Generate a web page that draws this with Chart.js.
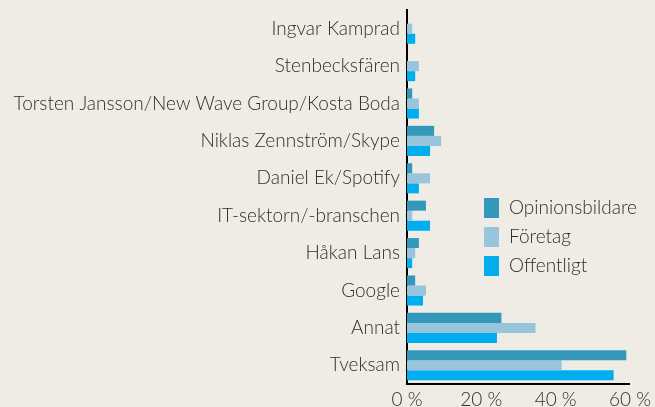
<!DOCTYPE html>
<html>
<head>
<meta charset="utf-8">
<script src="https://cdn.jsdelivr.net/npm/chart.js@4.4.1/dist/chart.umd.min.js"></script>
<style>
  html, body { margin: 0; padding: 0; background: #efebe5; }
  #wrap { position: relative; width: 655px; height: 407px; }
</style>
</head>
<body>
<div id="wrap"><canvas id="c" width="655" height="407"></canvas></div>
<script>
// categories, top to bottom
const categories = [
  'Ingvar Kamprad',
  'Stenbecksfären',
  'Torsten Jansson/New Wave Group/Kosta Boda',
  'Niklas Zennström/Skype',
  'Daniel Ek/Spotify',
  'IT-sektorn/-branschen',
  'Håkan Lans',
  'Google',
  'Annat',
  'Tveksam'
];
const seriesNames = ['Opinionsbildare', 'Företag', 'Offentligt'];
const opinionsbildare = [0, 0, 1.4, 7.3, 1.4, 5.1, 3.2, 2.2, 25.4, 59];
const foretag = [1.4, 3.2, 3.2, 9.2, 6.2, 1.4, 2.2, 5.1, 34.6, 41.6];
const offentligt = [2.2, 2.2, 3.2, 6.2, 3.2, 6.2, 1.4, 4.3, 24.2, 55.6];
const xTicks = [0, 20, 40, 60];

const colors = ['#3498bb', '#98c4dc', '#00adee'];
const textColor = '#2e2e2e';
const fontFamily = 'Lato, "Open Sans", sans-serif';

// legend drawn inside the plot, right side
const sideLegend = {
  id: 'sideLegend',
  afterDraw(chart) {
    const ctx = chart.ctx;
    ctx.save();
    ctx.font = '300 19px ' + fontFamily;
    ctx.textBaseline = 'middle';
    chart.data.datasets.forEach((ds, i) => {
      const y = 208 + i * 29;
      ctx.fillStyle = ds.backgroundColor;
      ctx.fillRect(484, y - 10, 15, 20);
      ctx.fillStyle = textColor;
      ctx.fillText(ds.label, 509, y);
    });
    ctx.restore();
  }
};

new Chart(document.getElementById('c'), {
  type: 'bar',
  data: {
    labels: categories,
    datasets: [opinionsbildare, foretag, offentligt].map((d, i) => ({
      label: seriesNames[i],
      data: d,
      backgroundColor: colors[i],
      borderWidth: 0,
      barPercentage: 1,
      categoryPercentage: 0.805
    }))
  },
  options: {
    indexAxis: 'y',
    responsive: false,
    animation: false,
    layout: { padding: { top: 10, right: 23, left: 0, bottom: 0 } },
    plugins: {
      legend: { display: false },
      tooltip: { enabled: false }
    },
    scales: {
      y: {
        grid: { display: false, drawTicks: false },
        border: { color: '#000', width: 2 },
        ticks: {
          color: textColor,
          font: { family: fontFamily, size: 19, weight: '300' },
          padding: 7
        },
        afterFit(scale) {
          scale.width = 407;
          scale.paddingTop = 0;
          scale.paddingBottom = 0;
        }
      },
      x: {
        min: 0,
        max: 60,
        grid: { display: false, drawTicks: false },
        border: { color: '#000', width: 2 },
        afterBuildTicks(scale) { scale.ticks = xTicks.map(v => ({ value: v })); },
        ticks: {
          color: textColor,
          font: { family: fontFamily, size: 19, weight: '300' },
          padding: 4,
          maxRotation: 0,
          callback: v => v + ' %'
        },
        afterFit(scale) { scale.height = 23; }
      }
    }
  },
  plugins: [sideLegend]
});
</script>
</body>
</html>
